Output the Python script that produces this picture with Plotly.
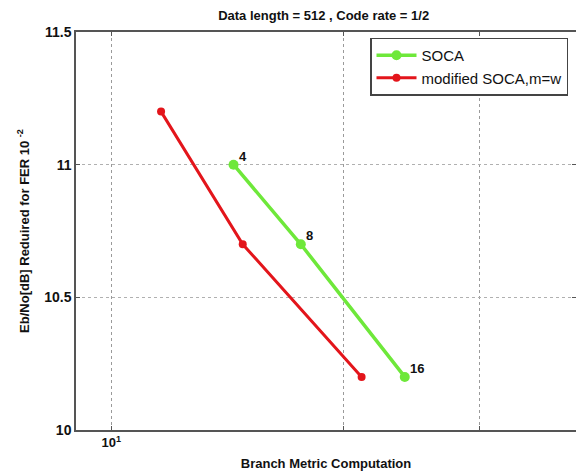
import math
import plotly.graph_objects as go

# Data
soca_x = [14.4, 17.6, 24.0]
soca_y = [11.0, 10.7, 10.2]
soca_labels = ["4", "8", "16"]
mod_x = [11.6, 14.8, 21.1]
mod_y = [11.2, 10.7, 10.2]
x_tickvals = [10]
x_ticktext = ["<b>10<sup>1</sup></b>"]
x_minor_gridvals = [20, 30]
y_tickvals = [10, 10.5, 11, 11.5]
y_ticktext = ["10", "10.5", "11", "11.5"]

GREEN = "#6ee83a"
RED = "#e3151b"
FONT = "Liberation Sans Narrow, Arial Narrow, Liberation Sans, sans-serif"

fig = go.Figure()
fig.add_trace(go.Scatter(
    x=soca_x, y=soca_y, mode="lines+markers", name="SOCA",
    line=dict(color=GREEN, width=3.5),
    marker=dict(color=GREEN, size=10, symbol="circle"),
))
fig.add_trace(go.Scatter(
    x=mod_x, y=mod_y, mode="lines+markers", name="modified SOCA,m=w",
    line=dict(color=RED, width=3),
    marker=dict(color=RED, size=8, symbol="circle"),
))

for x, y, t in zip(soca_x, soca_y, soca_labels):
    fig.add_annotation(x=math.log10(x), y=y, xref="x", yref="y", text="<b>" + t + "</b>",
                       showarrow=False, xanchor="left", yanchor="bottom",
                       xshift=3, yshift=-1,
                       font=dict(family=FONT, size=13, color="#111"))

# body has an 8px margin in the page, so the figure is drawn 8px smaller and offset
fig.update_layout(
    width=576, height=467,
    margin=dict(l=68, r=6, t=24, b=40),
    paper_bgcolor="white", plot_bgcolor="white",
    font=dict(family=FONT, size=13, color="#111"),
    title=dict(text="<b>Data length = 512 , Code rate = 1/2</b>",
               x=0.548, xanchor="center", y=0.985, yanchor="middle",
               font=dict(family=FONT, size=13, color="#111")),
    showlegend=True,
    legend=dict(x=0.984, y=0.986, xanchor="right", yanchor="top",
                bgcolor="white", bordercolor="#444", borderwidth=1.5,
                font=dict(family=FONT, size=15, color="#111"),
                tracegroupgap=0, itemwidth=40),
)

fig.update_xaxes(
    type="log", range=[0.95424, 1.60206],
    tickvals=x_tickvals, ticktext=x_ticktext,
    tickfont=dict(family=FONT, size=13, color="#111"),
    showgrid=True, gridcolor="#9a9a9a", griddash="dot", gridwidth=1,
    minor=dict(tickvals=x_minor_gridvals, showgrid=True, gridcolor="#9a9a9a",
               griddash="dot", gridwidth=1, ticks="inside", ticklen=4, tickcolor="#555"),
    showline=True, linecolor="#555", linewidth=1.5, mirror="ticks",
    ticks="inside", ticklen=4, tickcolor="#555",
    zeroline=False,
    title=dict(text="<b>Branch Metric Computation</b>", standoff=10,
               font=dict(family=FONT, size=13, color="#111")),
)
fig.update_yaxes(
    range=[10, 11.5],
    tickvals=y_tickvals, ticktext=["<b>" + t + "</b>" for t in y_ticktext],
    tickfont=dict(family=FONT, size=14, color="#111"),
    showgrid=True, gridcolor="#b0b0b0", griddash="dot", gridwidth=1,
    showline=True, linecolor="#555", linewidth=1.5, mirror="ticks",
    ticks="inside", ticklen=4, tickcolor="#555",
    zeroline=False,
    title=dict(text="<b>Eb/No[dB] Reduired for FER 10 <sup>-2</sup></b>", standoff=12,
               font=dict(family=FONT, size=13, color="#111")),
)

fig.write_html("out.html")
